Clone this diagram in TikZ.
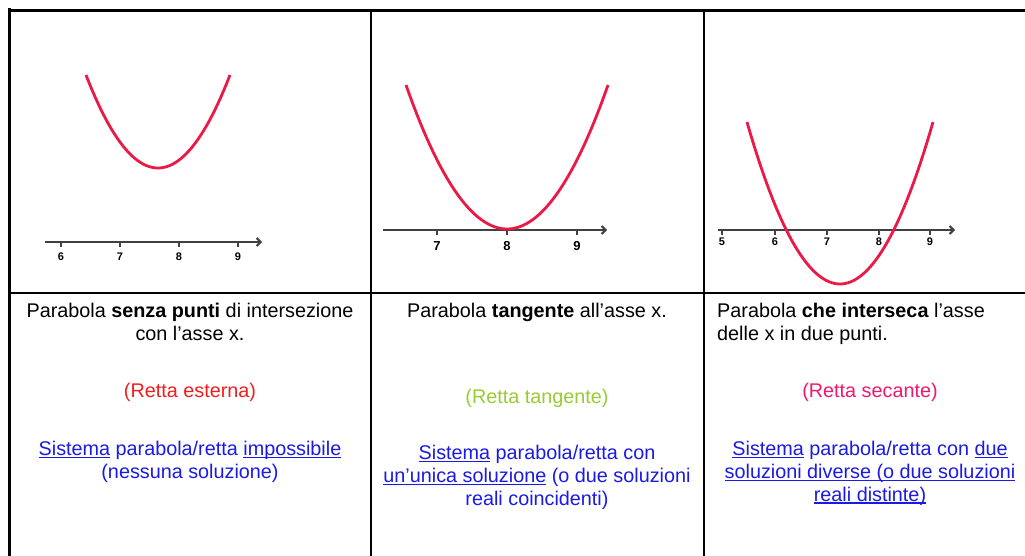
\documentclass[tikz,border=0pt]{standalone}
\usepackage{fontspec}
\setmainfont{Liberation Sans}
\usetikzlibrary{arrows.meta}
\definecolor{Curva}{HTML}{EC1846}
\definecolor{Asse}{HTML}{404040}
\definecolor{Esterna}{HTML}{F01E1E}
\definecolor{Tangente}{HTML}{99CC33}
\definecolor{Secante}{HTML}{F0186A}
\definecolor{Blu}{HTML}{1A1AE6}
\newsavebox\sottbox
\newcommand\sott[1]{\sbox\sottbox{#1}\rlap{\rule[-2.4pt]{\wd\sottbox}{1.1pt}}\usebox\sottbox}
\tikzset{
  griglia/.style={draw=black,line width=2pt},
  bordo/.style={draw=black,line width=3.5pt},
  asse/.style={draw=Asse,line width=2pt,-{Straight Barb[length=4pt,width=8pt]}},
  tacca/.style={draw=Asse,line width=1.5pt},
  curva/.style={draw=Curva,line width=2.8pt},
  num/.style={font=\fontsize{11}{11}\selectfont\bfseries,text=black,inner sep=0pt},
  testo/.style={font=\fontsize{19.8}{22.8}\selectfont,align=center,inner sep=0pt,anchor=north},
}

\begin{document}
\begin{tikzpicture}[x=1pt,y=-1pt,line join=round]
\useasboundingbox[fill=white] (0,0) rectangle (1025,556);
% table
\draw[griglia] (371,10) -- (371,556) (704,10) -- (704,556) (9,292.5) -- (1030,292.5);
\draw[bordo] (9.5,8) -- (9.5,556) (8,10.5) -- (1030,10.5);
% first panel: no intersection
\coordinate (a1s) at (45,242); \coordinate (a1e) at (262,242);
\draw[asse] (a1s) -- (a1e);
\foreach \n/\xx in {6/61,7/120,8/179,9/238} {
  \draw[tacca] (\xx,242) -- (\xx,247);
  \node[num] (p1n\n) at (\xx,257) {\n};
}
\draw[curva] plot[domain=-72:72,samples=60] ({158+\x},{168-0.01794*\x*\x});
% second panel: tangent
\coordinate (a2s) at (383,230); \coordinate (a2e) at (607,230);
\draw[asse] (a2s) -- (a2e);
\foreach \n/\xx in {7/437,8/507,9/577} {
  \draw[tacca] (\xx,230) -- (\xx,235);
  \node[num,font=\fontsize{13}{13}\selectfont\bfseries] (p2n\n) at (\xx,246) {\n};
}
\draw[curva] plot[domain=-101:101,samples=60] ({507+\x},{229-0.01412*\x*\x});
% third panel: two points
\coordinate (a3s) at (718,230); \coordinate (a3e) at (955,230);
\draw[asse] (a3s) -- (a3e);
\foreach \n/\xx in {5/722,6/775,7/827,8/879,9/930} {
  \draw[tacca] (\xx,230) -- (\xx,235);
  \node[num] (p3n\n) at (\xx,242) {\n};
}
\draw[curva] plot[domain=-93:93,samples=60] ({840+\x},{284-0.01873*\x*\x});
% texts
\node[testo] (t1) at (190,303) {Parabola \textbf{senza punti} di intersezione\\con l’asse x.};
\node[testo,text=Esterna] (r1) at (190,383) {(Retta esterna)};
\node[testo,text=Blu] (s1) at (190,441) {\sott{Sistema} parabola/retta \sott{impossibile}\\(nessuna soluzione)};
\node[testo] (t2) at (537,303) {Parabola \textbf{tangente} all’asse x.};
\node[testo,text=Tangente] (r2) at (537,389) {(Retta tangente)};
\node[testo,text=Blu] (s2) at (537,445) {\sott{Sistema} parabola/retta con\\\sott{un’unica soluzione} (o due soluzioni\\reali coincidenti)};
\node[testo,align=left,anchor=north west] (t3) at (717,303) {Parabola \textbf{che interseca} l’asse\\delle x in due punti.};
\node[testo,text=Secante] (r3) at (870,383) {(Retta secante)};
\node[testo,text=Blu] (s3) at (870,441) {\sott{Sistema} parabola/retta con \sott{due}\\\sott{soluzioni diverse (o due soluzioni}\\\sott{reali distinte)}};
\end{tikzpicture}
\end{document}
